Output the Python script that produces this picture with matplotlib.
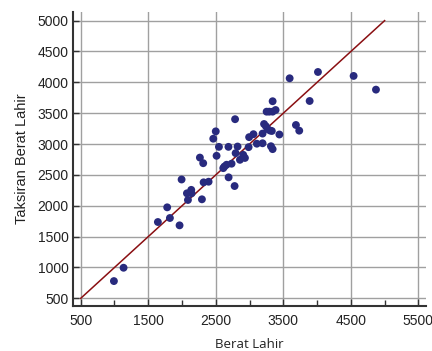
import matplotlib
matplotlib.use("Agg")
import matplotlib.pyplot as plt
from matplotlib.ticker import MultipleLocator

# Data (birth weight vs estimated birth weight)
berat_lahir = [992, 1135, 1643, 1781, 1821, 1964, 1994, 2073, 2088, 2137, 2142,
               2295, 2320, 2394, 2265, 2314, 2512, 2611, 2628, 2660, 2734, 2690,
               2779, 2463, 2500, 2547, 2688, 2786, 2823, 2794, 2906, 2932, 2858,
               2986, 2994, 3058, 3108, 3193, 3193, 3215, 3243, 3268, 3302, 3330,
               3253, 3293, 3342, 3386, 3342, 3317, 3342, 3442, 3594, 3687, 3736,
               3890, 4013, 4541, 4872]
taksiran = [780, 996, 1737, 1975, 1802, 1683, 2426, 2202, 2094, 2258, 2202,
            2105, 2380, 2390, 2781, 2690, 2810, 2610, 2636, 2665, 2682, 2461,
            2320, 3087, 3206, 2955, 2955, 3403, 2960, 2853, 2826, 2775, 2745,
            2950, 3112, 3160, 3006, 3013, 3170, 3325, 3288, 3242, 3220, 3212,
            3525, 3525, 3525, 3552, 3694, 2965, 2918, 3155, 4066, 3309, 3217,
            3698, 4168, 4104, 3882]
ref_line = [500, 5000]
xticks = [500, 1500, 2500, 3500, 4500, 5500]
yticks = [500, 1000, 1500, 2000, 2500, 3000, 3500, 4000, 4500, 5000]

fig = plt.figure(figsize=(4.32, 3.51), dpi=100)
ax = fig.add_axes([0.168, 0.128, 0.818, 0.838])

ax.set_xlim(380, 5612)
ax.set_ylim(375, 5141)

ax.set_xticks(xticks)
ax.xaxis.set_minor_locator(MultipleLocator(500))
ax.set_yticks(yticks)

ax.grid(True, which="major", color="#a0a0a0", linewidth=1.0)
ax.set_axisbelow(True)

ax.plot(ref_line, ref_line, color="#8a0f12", linewidth=1.1, zorder=2)
ax.scatter(berat_lahir, taksiran, s=32, color="#282a7e", edgecolors="none", zorder=3)

for side in ["top", "right"]:
    ax.spines[side].set_visible(False)
for side in ["left", "bottom"]:
    ax.spines[side].set_color("#333333")
    ax.spines[side].set_linewidth(1.5)

ax.tick_params(axis="both", which="both", direction="in", color="#333333", width=1)
ax.tick_params(axis="x", which="major", length=5, pad=6)
ax.tick_params(axis="x", which="minor", length=4)
ax.tick_params(axis="y", which="major", length=4, pad=3)

for lbl in ax.get_xticklabels() + ax.get_yticklabels():
    lbl.set_fontfamily("Liberation Sans")
    lbl.set_fontsize(10)
    lbl.set_color("#222222")

ax.set_ylabel("Taksiran Berat Lahir", fontfamily="Liberation Sans", fontsize=10.5,
              color="#222222", labelpad=6)
ax.set_xlabel("Berat Lahir", fontfamily="Open Sans", fontsize=9.5,
              color="#222222", labelpad=7)

fig.savefig("out.png", dpi=100)
